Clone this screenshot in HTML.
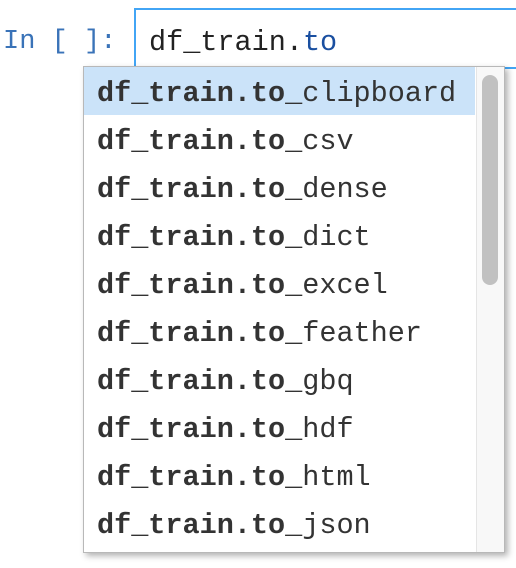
<!DOCTYPE html>
<html><head><style>
body{margin:0;width:516px;height:568px;background:#fff;overflow:hidden;position:relative;font-family:"Liberation Mono",monospace;}
.p{position:absolute;left:3px;top:25px;font-size:27px;color:#3a73b8;line-height:34px;}
.inp{position:absolute;left:134px;top:8px;width:400px;height:57px;border:2px solid #42a5f5;border-right:none;}
.inp span{position:absolute;left:13px;top:16px;font-size:28.5px;line-height:34px;color:#222;}
.pop{position:absolute;left:83px;top:66px;width:420px;height:485px;background:#fff;border:1px solid #b8b8b8;box-shadow:3px 3px 6px rgba(0,0,0,.3);overflow:hidden;}
.r{height:48px;line-height:48px;padding-left:13px;font-size:28.5px;color:#333;width:378px;white-space:nowrap;}
.r i{font-style:normal;position:relative;top:3px;}
.r b{font-weight:bold;}
.r.s{background:#cbe3f9;}
.tr{position:absolute;left:392px;top:0;width:28px;height:485px;background:#f8f8f8;border-left:1px solid #e5e5e5;}
.th{position:absolute;left:398px;top:8px;width:16px;height:210px;background:#c1c1c1;border-radius:8px;}
</style></head><body>
<div class="p">In [ ]:</div>
<div class="inp"><span>df_train.<span style="position:static;color:#1a4fa0">to</span></span></div>
<div class="pop">
<div class="r s"><i><b>df_train.to_</b>clipboard</i></div>
<div class="r"><i><b>df_train.to_</b>csv</i></div>
<div class="r"><i><b>df_train.to_</b>dense</i></div>
<div class="r"><i><b>df_train.to_</b>dict</i></div>
<div class="r"><i><b>df_train.to_</b>excel</i></div>
<div class="r"><i><b>df_train.to_</b>feather</i></div>
<div class="r"><i><b>df_train.to_</b>gbq</i></div>
<div class="r"><i><b>df_train.to_</b>hdf</i></div>
<div class="r"><i><b>df_train.to_</b>html</i></div>
<div class="r"><i><b>df_train.to_</b>json</i></div>
<div class="tr"></div><div class="th"></div>
</div>
</body></html>
